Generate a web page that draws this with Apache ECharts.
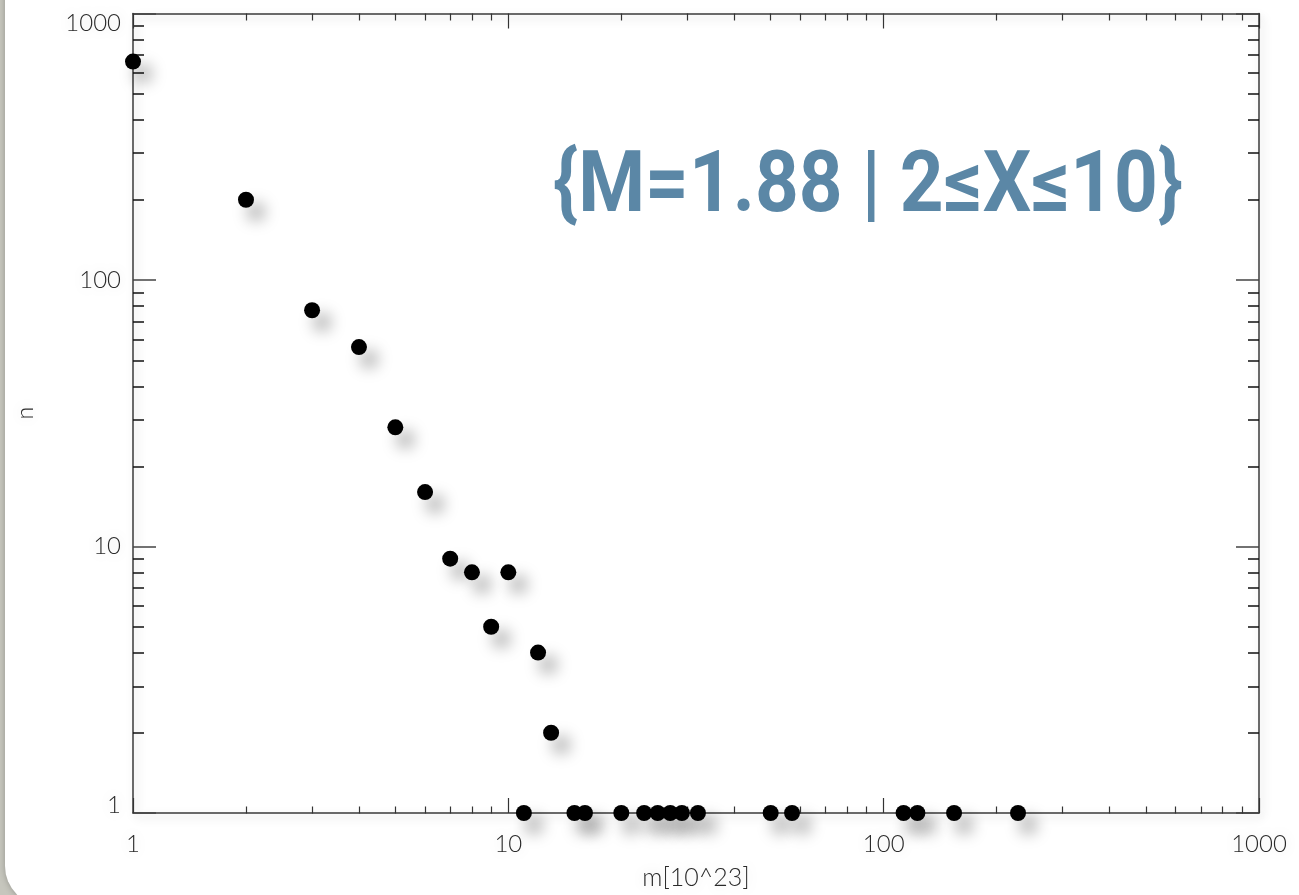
<!DOCTYPE html>
<html>
<head>
<meta charset="utf-8">
<script src="https://cdn.jsdelivr.net/npm/echarts@6/dist/echarts.min.js"></script>
<style>
  html, body { margin: 0; padding: 0; width: 1299px; height: 895px; overflow: hidden; background: #c6c6bd; }
  #panel { position: absolute; left: 5px; top: -60px; width: 1360px; height: 966px; background: #ffffff; border-radius: 40px; box-shadow: 0 0 6px rgba(0,0,0,0.25); }
  #chart { position: absolute; left: 0; top: 0; width: 1299px; height: 895px; }
</style>
</head>
<body>
<div id="panel"></div>
<div id="chart"></div>
<script>
// ---- data ----
const massValues  = [1, 2, 3, 4, 5, 6, 7, 8, 9, 10, 12, 13,
                     11, 15, 16, 20, 23, 25, 27, 29, 32, 50, 57, 113, 123, 154, 228];
const countValues = [660, 200, 77, 56, 28, 16, 9, 8, 5, 8, 4, 2,
                     1, 1, 1, 1, 1, 1, 1, 1, 1, 1, 1, 1, 1, 1, 1];
const majorTicks = [1, 10, 100, 1000];
const minorTicks = [2, 3, 4, 5, 6, 7, 8, 9, 20, 30, 40, 50, 60, 70, 80, 90, 200, 300, 400, 500, 600, 700, 800, 900];
const xAxisName = 'm[10^23]';
const yAxisName = 'n';
const annotation = '{M=1.88 | 2\u2264X\u226410}';

const points = massValues.map((m, i) => [m, countValues[i]]);

const chart = echarts.init(document.getElementById('chart'), null, { renderer: 'canvas', width: 1299, height: 895 });

const gridBox = { left: 133, top: 13.5, width: 1126, height: 800, containLabel: false };
const fontFam = 'Lato, "Open Sans", sans-serif';
const baseText = { fontFamily: fontFam, fontWeight: 300, fontSize: 24, color: '#2a2a2a' };
const labelFont = Object.assign({}, baseText, {
  textShadowColor: 'rgba(0,0,0,0.18)', textShadowBlur: 14 });
const axisLineStyle = { color: '#3a3a3a', width: 1.5, shadowColor: 'rgba(0,0,0,0.22)', shadowBlur: 10, shadowOffsetY: 4, shadowOffsetX: 3 };

function logAxis(opts) {
  return Object.assign({
    type: 'log', logBase: 10, min: 1, max: 1000,
    splitLine: { show: false },
    axisLine: { show: false },
    axisLabel: { show: false },
    axisTick: { show: false },
    minorTick: { show: false }
  }, opts);
}

const xAxes = [
  logAxis({ gridIndex: 0, position: 'bottom',
    axisLine: { show: true, lineStyle: axisLineStyle },
    axisTick: { show: true, inside: true, length: 15, customValues: majorTicks, lineStyle: { color: '#333', width: 1.2 } },
    axisLabel: Object.assign({ show: true, margin: 19, customValues: majorTicks,
      formatter: v => String(Math.round(v)) }, labelFont),
    name: xAxisName, nameLocation: 'middle', nameGap: 52,
    nameTextStyle: { fontFamily: fontFam, fontWeight: 300, fontSize: 25, color: '#2a2a2a', textShadowColor: 'rgba(0,0,0,0.18)', textShadowBlur: 14 }
  }),
  logAxis({ gridIndex: 0, position: 'top',
    axisLine: { show: true, lineStyle: axisLineStyle },
    axisTick: { show: true, inside: true, length: 15, customValues: majorTicks, lineStyle: { color: '#333', width: 1.2 } }
  }),
  logAxis({ gridIndex: 1, position: 'bottom',
    axisTick: { show: true, inside: true, length: 7, customValues: minorTicks, lineStyle: { color: '#333', width: 1.2 } }
  }),
  logAxis({ gridIndex: 1, position: 'top',
    axisTick: { show: true, inside: true, length: 7, customValues: minorTicks, lineStyle: { color: '#333', width: 1.2 } }
  })
];

const yAxes = [
  logAxis({ gridIndex: 0, position: 'left',
    axisLine: { show: true, lineStyle: axisLineStyle },
    axisTick: { show: true, inside: true, length: 23, customValues: majorTicks, lineStyle: { color: '#444', width: 1.5 } },
    axisLabel: Object.assign({ show: true, margin: 12, customValues: majorTicks,
      formatter: v => {
        const r = Math.round(v);
        if (r === 1000) return '{hi|' + r + '}';
        if (r === 1) return '{lo|' + r + '}';
        return String(r);
      },
      rich: {
        hi: Object.assign({}, baseText, { padding: [20, 0, 0, 0] }),
        lo: Object.assign({}, baseText, { padding: [0, 0, 16, 0] })
      }
    }, labelFont),
    name: yAxisName, nameLocation: 'middle', nameGap: 96, nameRotate: 90,
    nameTextStyle: { fontFamily: fontFam, fontWeight: 300, fontSize: 23, color: '#2a2a2a', textShadowColor: 'rgba(0,0,0,0.18)', textShadowBlur: 14 }
  }),
  logAxis({ gridIndex: 0, position: 'right',
    axisLine: { show: true, lineStyle: axisLineStyle },
    axisTick: { show: true, inside: true, length: 23, customValues: majorTicks, lineStyle: { color: '#444', width: 1.5 } }
  }),
  logAxis({ gridIndex: 1, position: 'left',
    axisTick: { show: true, inside: true, length: 11, customValues: minorTicks, lineStyle: { color: '#111', width: 1.5 } }
  }),
  logAxis({ gridIndex: 1, position: 'right',
    axisTick: { show: true, inside: true, length: 11, customValues: minorTicks, lineStyle: { color: '#111', width: 1.5 } }
  })
];

// condensed heading: measure natural width and squeeze horizontally to the reference width
const annFont = 'bold 86px Roboto, "DejaVu Sans", sans-serif';
const ctx = document.createElement('canvas').getContext('2d');
ctx.font = annFont;
const annWidth = ctx.measureText(annotation).width;
const annScaleX = 630 / annWidth;

chart.setOption({
  animation: false,
  backgroundColor: 'transparent',
  grid: [Object.assign({}, gridBox), Object.assign({}, gridBox)],
  xAxis: xAxes,
  yAxis: yAxes,
  graphic: [{
    type: 'text',
    x: 553,
    y: 146,
    scaleX: annScaleX,
    z: 10,
    style: {
      text: annotation,
      fill: '#5b87a6',
      font: annFont,
      textBaseline: 'top',
      shadowColor: 'rgba(0,0,0,0.15)', shadowBlur: 6
    }
  }],
  series: [{
    type: 'scatter',
    xAxisIndex: 0,
    yAxisIndex: 0,
    data: points,
    symbol: 'circle',
    symbolSize: 16,
    clip: true,
    itemStyle: {
      color: '#000000',
      opacity: 1,
      shadowColor: 'rgba(0,0,0,0.4)',
      shadowBlur: 16,
      shadowOffsetX: 10,
      shadowOffsetY: 12
    },
    z: 5
  }]
});
</script>
</body>
</html>
